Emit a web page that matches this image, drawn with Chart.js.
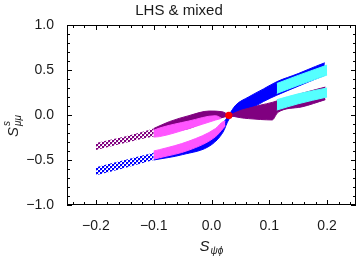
<!DOCTYPE html>
<html>
<head>
<meta charset="utf-8">
<script src="https://cdn.jsdelivr.net/npm/chart.js@4"></script>
<style>
html,body{margin:0;padding:0;background:#fff;}
#c{display:block;}
</style>
</head>
<body>
<canvas id="c" width="360" height="256"></canvas>
<script>
// ---- data ----
const xTicks = [-0.2, -0.1, 0, 0.1, 0.2];
const yTicks = [-1, -0.5, 0, 0.5, 1];

// blue band, sparse (dotted) left part
const blueDotX     = [-0.2, -0.15, -0.1];
const blueDotUpper = [-0.58, -0.50, -0.42];
const blueDotLower = [-0.67, -0.59, -0.50];
// blue band, dense part
const blueX     = [-0.1, -0.05, 0.0, 0.02, 0.03, 0.042, 0.064, 0.09, 0.113, 0.15, 0.18, 0.196];
const blueUpper = [-0.42, -0.35, -0.21, -0.09, 0.0, 0.11, 0.20, 0.29, 0.37, 0.46, 0.54, 0.58];
const blueLower = [-0.50, -0.44, -0.33, -0.19, -0.05, 0.0, 0.055, 0.15, 0.22, 0.32, 0.40, 0.44];

// purple band, sparse left part
const purpleDotX     = [-0.2, -0.15, -0.1];
const purpleDotUpper = [-0.31, -0.24, -0.15];
const purpleDotLower = [-0.39, -0.31, -0.24];
// purple band, dense left part
const purpleLX     = [-0.1, -0.073, -0.039, -0.004, 0.018, 0.031];
const purpleLUpper = [-0.15, -0.074, -0.007, 0.044, 0.037, -0.005];
const purpleLLower = [-0.24, -0.19, -0.15, -0.06, -0.03, -0.005];
// purple band, right part
const purpleRX     = [0.031, 0.05, 0.064, 0.085, 0.105, 0.115, 0.156, 0.197];
const purpleRUpper = [-0.005, 0.05, 0.074, 0.11, 0.14, 0.16, 0.24, 0.31];
const purpleRLower = [-0.005, -0.03, -0.04, -0.05, -0.055, 0.03, 0.09, 0.17];

const magUX     = [-0.1, -0.09, -0.039, 0.007, 0.016];
const magUUpper = [-0.17, -0.145, -0.067, -0.008, -0.03];
const magULower = [-0.245, -0.24, -0.15, -0.056, -0.04];

const magLX     = [-0.1, -0.09, -0.039, 0.007, 0.02, 0.024];
const magLUpper = [-0.40, -0.385, -0.29, -0.15, -0.074, -0.07];
const magLLower = [-0.49, -0.475, -0.39, -0.24, -0.15, -0.12];

const cyanUX     = [0.113, 0.15, 0.2];
const cyanUUpper = [0.35, 0.44, 0.555];
const cyanULower = [0.24, 0.33, 0.444];

const cyanLX     = [0.113, 0.15, 0.2];
const cyanLUpper = [0.17, 0.235, 0.30];
const cyanLLower = [0.055, 0.125, 0.20];

const redPoint = [{x: 0.03, y: -0.005}];

// ---- styling ----
const COL = {blue:'#0000ff', purple:'#800080', magenta:'#ff55ff', cyan:'#55ffff', red:'#ff0000'};
const FONT = 'Liberation Sans, Arial, Helvetica, sans-serif';
const TXT = '#1a1a1a';

function dotPattern(color){
  const t = document.createElement('canvas');
  t.width = 4; t.height = 4;
  const g = t.getContext('2d');
  g.fillStyle = color;
  g.fillRect(0,0,2,2);
  g.fillRect(2,2,2,2);
  g.globalAlpha = 0.35;
  g.fillRect(2,0,1,1);
  g.fillRect(0,2,1,1);
  return document.getElementById('c').getContext('2d').createPattern(t, 'repeat');
}

function pts(xs, ys){ return xs.map((x,i)=>({x:x, y:ys[i]})); }
function band(xs, up, lo, color, fillStyle){
  const common = {type:'line', pointRadius:0, borderWidth:fillStyle?0.01:1, borderColor:fillStyle?'rgba(0,0,0,0)':color,
    backgroundColor:fillStyle||color, cubicInterpolationMode:'monotone'};
  return [
    Object.assign({data:pts(xs, up), fill:false}, common),
    Object.assign({data:pts(xs, lo), fill:'-1'}, common)
  ];
}

const datasets = [
  {type:'scatter', data:redPoint, pointRadius:3.6, pointBackgroundColor:COL.red, pointBorderWidth:0, showLine:false},
  ...band(cyanUX, cyanUUpper, cyanULower, COL.cyan),
  ...band(cyanLX, cyanLUpper, cyanLLower, COL.cyan),
  ...band(magUX, magUUpper, magULower, COL.magenta),
  ...band(magLX, magLUpper, magLLower, COL.magenta),
  ...band(purpleLX, purpleLUpper, purpleLLower, COL.purple),
  ...band(purpleDotX, purpleDotUpper, purpleDotLower, COL.purple, dotPattern(COL.purple)),
  ...band(purpleRX, purpleRUpper, purpleRLower, COL.purple),
  ...band(blueX, blueUpper, blueLower, COL.blue),
  ...band(blueDotX, blueDotUpper, blueDotLower, COL.blue, dotPattern(COL.blue))
];

function fmt(v){
  const s = Math.abs(v).toFixed(1);
  return (v < -1e-9 ? '\u2212' : '') + s;
}

const framePlugin = {
  id:'frame',
  afterDraw(chart){
    const {ctx, chartArea:a, scales} = chart;
    const xs = scales.x, ys = scales.y;
    ctx.save();
    ctx.strokeStyle = '#000';
    ctx.lineWidth = 1;
    ctx.strokeRect(a.left+0.5, a.top+0.5, a.right-a.left-1, a.bottom-a.top-1);
    ctx.beginPath();
    for (let i=-12;i<=12;i++){
      const v = i*0.02;
      const px = Math.round(xs.getPixelForValue(v))+0.5;
      const L = (i%5===0)?5:3;
      ctx.moveTo(px, a.bottom); ctx.lineTo(px, a.bottom-L);
      ctx.moveTo(px, a.top); ctx.lineTo(px, a.top+L);
    }
    for (let i=-10;i<=10;i++){
      const v = i*0.1;
      const py = Math.round(ys.getPixelForValue(v))+0.5;
      const L = (i%5===0)?5:3;
      ctx.moveTo(a.left, py); ctx.lineTo(a.left+L, py);
      ctx.moveTo(a.right, py); ctx.lineTo(a.right-L, py);
    }
    ctx.stroke();

    // axis titles
    ctx.fillStyle = TXT;
    ctx.textBaseline = 'alphabetic';
    // x title: S_{ψφ}
    const cx = (a.left+a.right)/2;
    ctx.font = 'italic 15px ' + FONT;
    const sW = ctx.measureText('S').width;
    ctx.font = 'italic 10px ' + FONT;
    const subW = ctx.measureText('\u03c8\u03d5').width;
    let x0 = cx - (sW+subW+1)/2;
    ctx.font = 'italic 15px ' + FONT;
    ctx.fillText('S', x0, 251);
    ctx.font = 'italic 10px ' + FONT;
    ctx.fillText('\u03c8\u03d5', x0+sW+1, 254);

    // y title: S^{s}_{μμ}, rotated
    ctx.save();
    ctx.translate(18, 126);
    ctx.rotate(-Math.PI/2);
    ctx.font = 'italic 15px ' + FONT;
    const sW2 = ctx.measureText('S').width;
    ctx.fillText('S', -sW2/2-6, 0);
    ctx.font = 'italic 10px ' + FONT;
    ctx.fillText('s', sW2/2-5, -8);
    ctx.fillText('\u03bc\u03bc', sW2/2-5, 3);
    ctx.restore();
    ctx.restore();
  }
};

new Chart(document.getElementById('c'), {
  type:'line',
  data:{datasets:datasets},
  options:{
    responsive:false,
    animation:false,
    events:[],
    layout:{padding:{left:0,right:2,top:0,bottom:0}},
    plugins:{
      legend:{display:false},
      tooltip:{enabled:false},
      title:{display:true, text:'LHS & mixed', color:TXT,
        font:{family:FONT, size:15, weight:'normal'}, padding:{top:2,bottom:5}}
    },
    scales:{
      x:{type:'linear', min:-0.25, max:0.25,
        afterBuildTicks(s){ s.ticks = xTicks.map(v=>({value:v})); },
        afterFit(s){ s.height = 51; },
        grid:{display:false}, border:{display:false},
        ticks:{callback:fmt, color:TXT, padding:5, maxRotation:0, autoSkip:false,
          font:{family:FONT, size:14}}
      },
      y:{type:'linear', min:-1, max:1,
        afterBuildTicks(s){ s.ticks = yTicks.map(v=>({value:v})); },
        afterFit(s){ s.width = 67; },
        grid:{display:false}, border:{display:false},
        ticks:{callback:fmt, color:TXT, padding:5, autoSkip:false,
          font:{family:FONT, size:14}}
      }
    }
  },
  plugins:[framePlugin]
});
</script>
</body>
</html>
